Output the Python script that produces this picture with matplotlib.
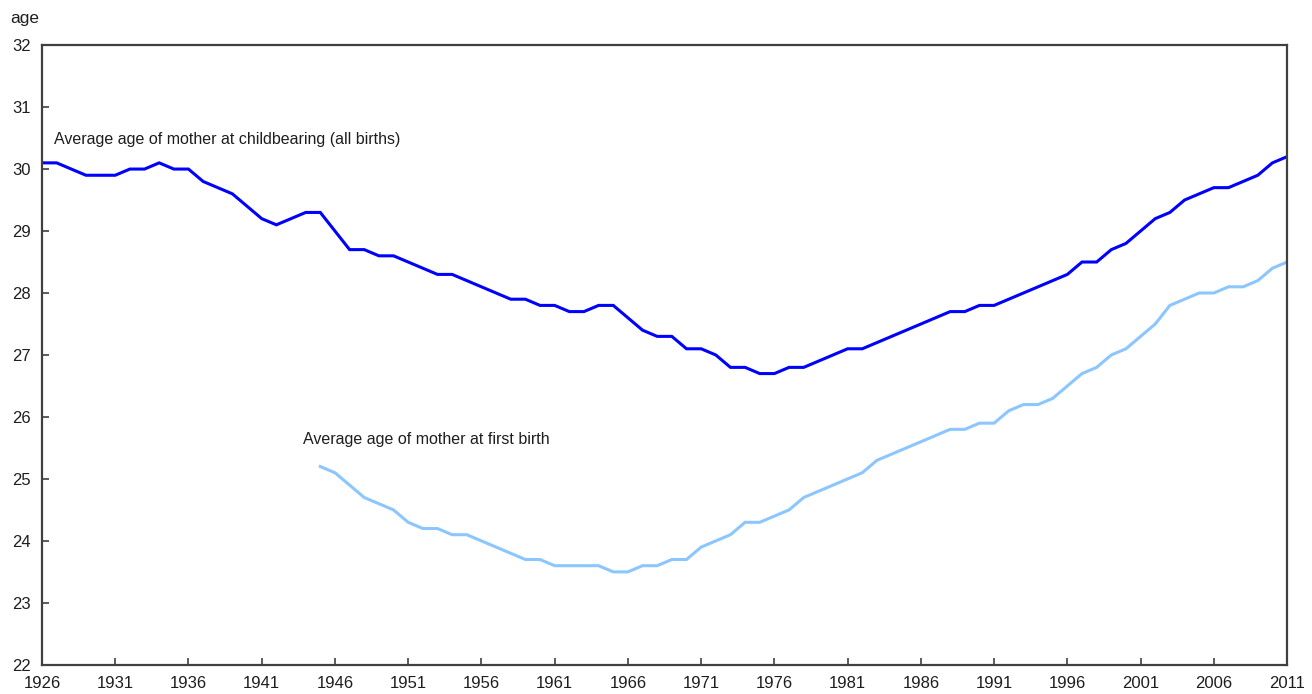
"""
Average age of mother at childbearing vs. at first birth, 1926-2011.
Saves out.png (1312x694).
"""

import matplotlib
matplotlib.use("Agg")
import matplotlib.pyplot as plt

plt.rcParams["font.family"] = ["Liberation Sans", "DejaVu Sans"]

YEARS_ALL = list(range(1926, 2012))
AGE_ALL = [
    30.1, 30.1, 30.0, 29.9, 29.9, 29.9, 30.0, 30.0, 30.1, 30.0,   # 1926-1935
    30.0, 29.8, 29.7, 29.6, 29.4, 29.2, 29.1, 29.2, 29.3, 29.3,   # 1936-1945
    29.0, 28.7, 28.7, 28.6, 28.6, 28.5, 28.4, 28.3, 28.3, 28.2,   # 1946-1955
    28.1, 28.0, 27.9, 27.9, 27.8, 27.8, 27.7, 27.7, 27.8, 27.8,   # 1956-1965
    27.6, 27.4, 27.3, 27.3, 27.1, 27.1, 27.0, 26.8, 26.8, 26.7,   # 1966-1975
    26.7, 26.8, 26.8, 26.9, 27.0, 27.1, 27.1, 27.2, 27.3, 27.4,   # 1976-1985
    27.5, 27.6, 27.7, 27.7, 27.8, 27.8, 27.9, 28.0, 28.1, 28.2,   # 1986-1995
    28.3, 28.5, 28.5, 28.7, 28.8, 29.0, 29.2, 29.3, 29.5, 29.6,   # 1996-2005
    29.7, 29.7, 29.8, 29.9, 30.1, 30.2,                           # 2006-2011
]

YEARS_FIRST = list(range(1945, 2012))
AGE_FIRST = [
    25.2, 25.1, 24.9, 24.7, 24.6, 24.5, 24.3, 24.2, 24.2, 24.1,   # 1945-1954
    24.1, 24.0, 23.9, 23.8, 23.7, 23.7, 23.6, 23.6, 23.6, 23.6,   # 1955-1964
    23.5, 23.5, 23.6, 23.6, 23.7, 23.7, 23.9, 24.0, 24.1, 24.3,   # 1965-1974
    24.3, 24.4, 24.5, 24.7, 24.8, 24.9, 25.0, 25.1, 25.3, 25.4,   # 1975-1984
    25.5, 25.6, 25.7, 25.8, 25.8, 25.9, 25.9, 26.1, 26.2, 26.2,   # 1985-1994
    26.3, 26.5, 26.7, 26.8, 27.0, 27.1, 27.3, 27.5, 27.8, 27.9,   # 1995-2004
    28.0, 28.0, 28.1, 28.1, 28.2, 28.4, 28.5,                     # 2005-2011
]

X_TICKS = list(range(1926, 2012, 5))
Y_TICKS = list(range(22, 33))

LABEL_ALL = "Average age of mother at childbearing (all births)"
LABEL_FIRST = "Average age of mother at first birth"

TEXT = "#1e1e1e"
SPINE = "#404040"


def main():
    fig = plt.figure(figsize=(13.12, 6.94), dpi=100)
    ax = fig.add_axes([0.032, 0.042, 0.949, 0.893])

    ax.plot(YEARS_ALL, AGE_ALL, color="#0000ff", lw=2.2, solid_joinstyle="miter")
    ax.plot(YEARS_FIRST, AGE_FIRST, color="#8cc6ff", lw=2.2, solid_joinstyle="miter")

    ax.set_xlim(1926, 2011)
    ax.set_ylim(22, 32)
    ax.set_xticks(X_TICKS)
    ax.set_yticks(Y_TICKS)
    ax.tick_params(direction="in", length=5, width=1.2, color=SPINE,
                   labelsize=12, labelcolor=TEXT)
    ax.tick_params(axis="y", pad=8)
    ax.tick_params(axis="x", pad=8)
    for sp in ax.spines.values():
        sp.set_color(SPINE)
        sp.set_linewidth(1.6)

    ax.text(1926.8, 30.47, LABEL_ALL, fontsize=11.5, color=TEXT, va="center")
    ax.text(1943.8, 25.63, LABEL_FIRST, fontsize=11.5, color=TEXT, va="center")

    fig.text(10 / 1312, 1 - 18 / 694, "age", fontsize=12.5, color=TEXT, va="center")

    fig.savefig("out.png", dpi=100)
    plt.close(fig)


if __name__ == "__main__":
    main()
